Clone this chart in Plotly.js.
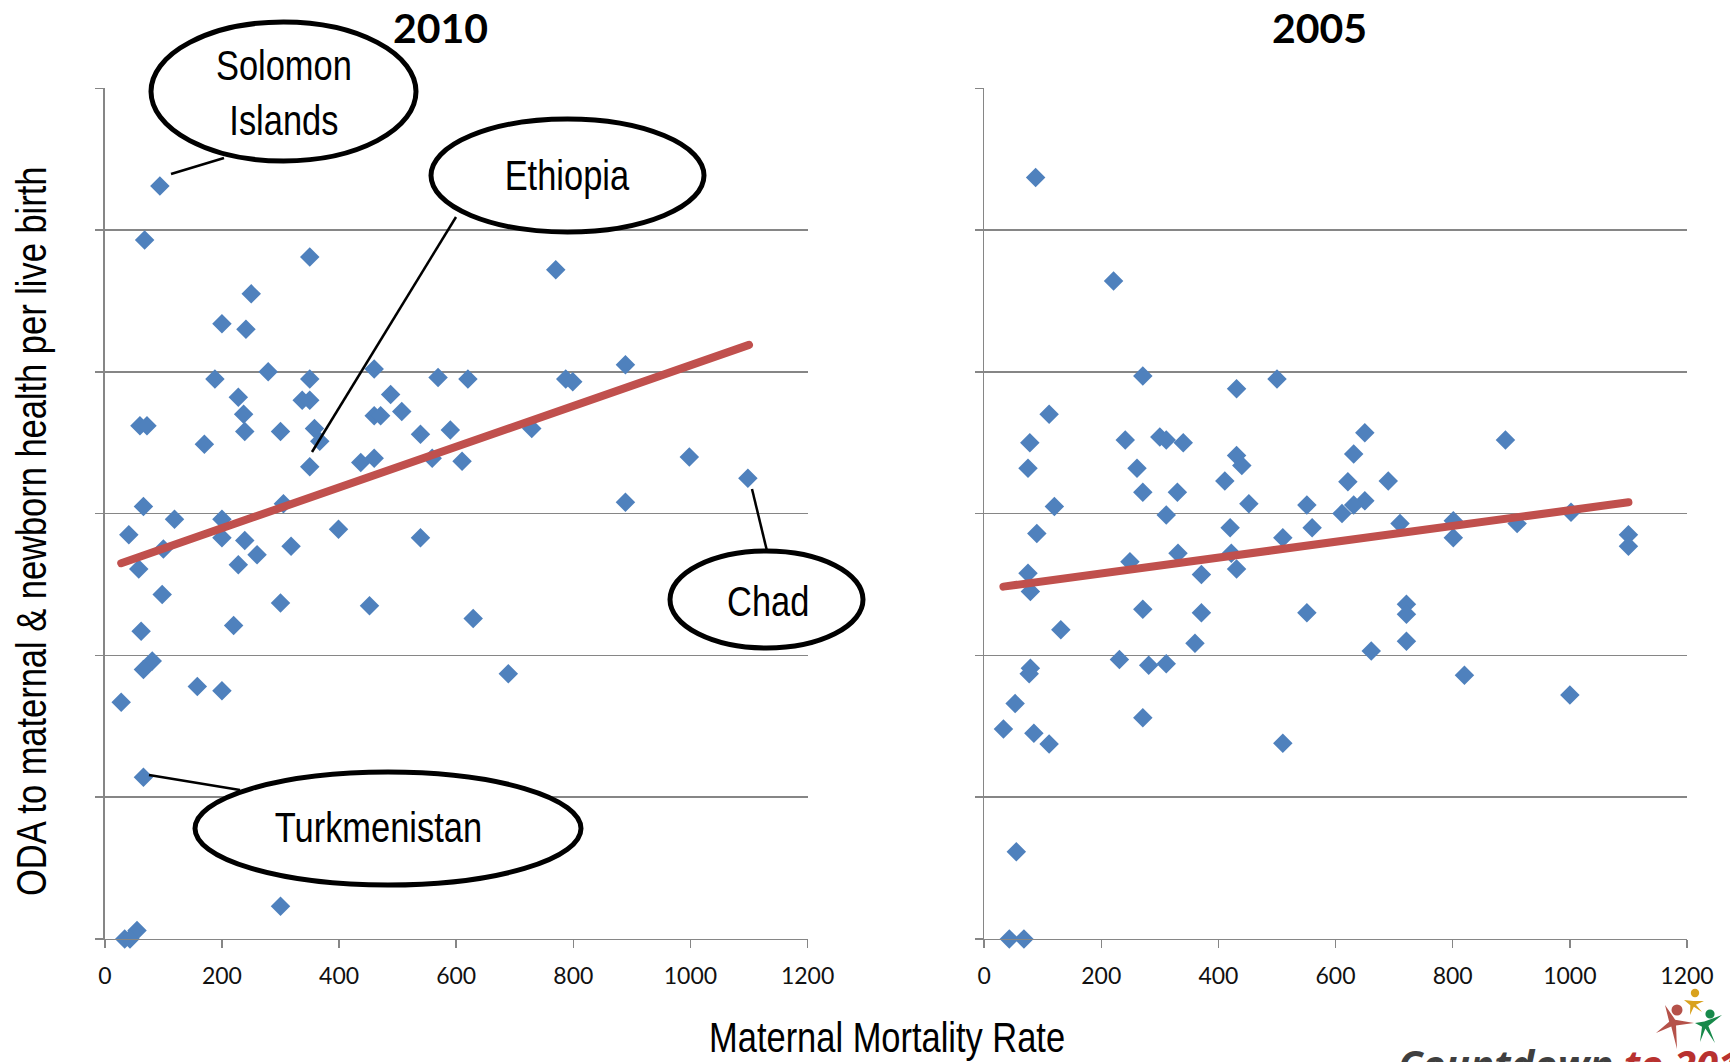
<!DOCTYPE html>
<html><head><meta charset="utf-8">
<script src="https://cdn.plot.ly/plotly-3.0.1.min.js"></script>
<style>html,body{margin:0;padding:0;background:#fff;overflow:hidden;} #chart{width:1730px;height:1062px;}</style>
</head><body><div id="chart"></div>
<script>
// ---- data ----
const mmr2010 = [94, 68, 350, 770, 250, 200, 241, 279, 460, 889, 188, 350, 620, 569, 787, 799, 488, 228, 337, 350, 237, 507, 460, 471, 60, 72, 300, 239, 358, 539, 590, 729, 367, 170, 998, 559, 610, 437, 460, 350, 1098, 889, 66, 305, 119, 200, 399, 41, 200, 539, 239, 318, 100, 260, 228, 58, 98, 300, 452, 629, 220, 62, 81, 66, 689, 158, 200, 28, 66, 300, 55, 34, 43];
const oda2010 = [53.1, 49.3, 48.1, 47.2, 45.5, 43.4, 43.0, 40.0, 40.2, 40.5, 39.5, 39.5, 39.5, 39.6, 39.5, 39.3, 38.4, 38.2, 38.0, 38.0, 37.0, 37.2, 36.9, 36.9, 36.2, 36.2, 35.8, 35.8, 36.0, 35.6, 35.9, 36.0, 35.1, 34.9, 34.0, 33.9, 33.7, 33.6, 33.9, 33.3, 32.5, 30.8, 30.5, 30.7, 29.6, 29.6, 28.9, 28.5, 28.3, 28.3, 28.1, 27.7, 27.5, 27.1, 26.4, 26.1, 24.3, 23.7, 23.5, 22.6, 22.1, 21.7, 19.6, 19.0, 18.7, 17.8, 17.5, 16.7, 11.4, 2.3, 0.6, 0, 0];
const mmr2005 = [88, 221, 271, 500, 431, 111, 650, 300, 311, 241, 340, 78, 890, 631, 431, 440, 75, 261, 690, 621, 411, 271, 330, 452, 650, 631, 611, 120, 551, 311, 710, 801, 910, 1002, 420, 560, 90, 510, 801, 1100, 1100, 331, 422, 249, 371, 431, 75, 79, 271, 371, 551, 721, 721, 131, 360, 721, 661, 231, 281, 311, 79, 77, 820, 53, 1000, 33, 271, 85, 111, 510, 55, 43, 68];
const oda2005 = [53.7, 46.4, 39.7, 39.5, 38.8, 37.0, 35.7, 35.4, 35.2, 35.2, 35.0, 35.0, 35.2, 34.2, 34.1, 33.4, 33.2, 33.2, 32.3, 32.25, 32.3, 31.5, 31.5, 30.7, 30.9, 30.6, 30.0, 30.5, 30.6, 29.9, 29.3, 29.5, 29.3, 30.1, 29.0, 29.0, 28.6, 28.3, 28.3, 28.5, 27.7, 27.2, 27.2, 26.6, 25.7, 26.1, 25.8, 24.5, 23.25, 23.0, 23.0, 23.6, 22.9, 21.8, 20.85, 21.0, 20.3, 19.7, 19.3, 19.4, 19.1, 18.7, 18.6, 16.6, 17.2, 14.8, 15.6, 14.5, 13.75, 13.8, 6.15, 0, 0];
const trendX2010 = [28, 1100];
const trendY2010 = [26.5, 41.9];
const trendX2005 = [33, 1100];
const trendY2005 = [24.85, 30.8];
const xTickVals = [0, 200, 400, 600, 800, 1000, 1200];
const xTickText = ['0', '200', '400', '600', '800', '1000', '1200'];
const panelTitles = ['2010', '2005'];
const calloutLabels = ['Solomon<br>Islands', 'Ethiopia', 'Chad', 'Turkmenistan'];
const xTitle = 'Maternal Mortality Rate';
const yTitle = 'ODA to maternal &amp; newborn health per live birth';

// ---- layout helpers (pixel -> paper) ----
const W = 1730, H = 1062;
const fx = x => x / W;
const fy = y => 1 - y / H;
const NARROW = '"Liberation Sans", Arial, sans-serif';   // condensed after drawing (Arial Narrow look)
const GRID = '#868686';

const xBase = {
  range: [0, 1200], tickvals: xTickVals, ticktext: xTickText,
  ticks: 'outside', ticklen: 8, tickwidth: 1.5, tickcolor: GRID,
  showline: true, linecolor: GRID, linewidth: 1.5,
  showgrid: false, zeroline: false, fixedrange: true,
  tickfont: {family: 'Lato, sans-serif', size: 23, color: '#111'},
  ticklabelstandoff: 8
};
const yBase = {
  range: [0, 60], tick0: 0, dtick: 10, showticklabels: false,
  ticks: 'outside', ticklen: 8, tickwidth: 1.5, tickcolor: GRID,
  showline: true, linecolor: GRID, linewidth: 1.5,
  showgrid: true, gridcolor: GRID, gridwidth: 1.5,
  zeroline: false, fixedrange: true
};

const yDom = [fy(938.9), fy(88.3)];
const layout = {
  width: W, height: H,
  margin: {l: 0, r: 0, t: 0, b: 0},
  paper_bgcolor: '#fff', plot_bgcolor: 'rgba(0,0,0,0)',
  showlegend: false,
  xaxis: Object.assign({}, xBase, {domain: [fx(104.8), fx(807.6)], anchor: 'y'}),
  yaxis: Object.assign({}, yBase, {domain: yDom, anchor: 'x'}),
  xaxis2: Object.assign({}, xBase, {domain: [fx(984.1), fx(1687)], anchor: 'y2'}),
  yaxis2: Object.assign({}, yBase, {domain: yDom, anchor: 'x2'}),
  annotations: [],
  shapes: []
};

// panel titles
[[440.5, panelTitles[0]], [1319.5, panelTitles[1]]].forEach(([x, t]) => {
  layout.annotations.push({xref: 'paper', yref: 'paper', x: fx(x), y: fy(27), xanchor: 'center', yanchor: 'middle',
    text: t, showarrow: false, font: {family: 'Lato, sans-serif', size: 41, weight: 700, color: '#000'}});
});
// shared x title and y title
layout.annotations.push({xref: 'paper', yref: 'paper', x: fx(887), y: fy(1037), xanchor: 'center', yanchor: 'middle',
  text: xTitle, showarrow: false, font: {family: NARROW, size: 42, color: '#000'}});
layout.annotations.push({xref: 'paper', yref: 'paper', x: fx(31), y: fy(532), xanchor: 'center', yanchor: 'middle',
  textangle: -90, text: yTitle, showarrow: false, font: {family: NARROW, size: 42, color: '#000'}});

// callouts: ellipse box [x0,y0,x1,y1], text centre, leader line
const calloutGeom = [
  {box: [151, 22, 416, 161], txt: [283.5, 93], line: [171, 174, 224, 158]},
  {box: [431, 119, 704, 232], txt: [567, 175], line: [456, 217, 312, 452]},
  {box: [670, 551, 863, 648], txt: [768, 601], line: [752, 489, 767, 551]},
  {box: [195, 772, 581, 885], txt: [378, 827], line: [149, 775, 240, 790]}
];
calloutGeom.forEach((g, i) => {
  layout.shapes.push({type: 'line', xref: 'paper', yref: 'paper', layer: 'above',
    x0: fx(g.line[0]), y0: fy(g.line[1]), x1: fx(g.line[2]), y1: fy(g.line[3]),
    line: {color: '#000', width: 2.5}});
  layout.shapes.push({type: 'circle', xref: 'paper', yref: 'paper', layer: 'above',
    x0: fx(g.box[0]), y0: fy(g.box[3]), x1: fx(g.box[2]), y1: fy(g.box[1]),
    fillcolor: '#fff', line: {color: '#000', width: 5}});
  layout.annotations.push({xref: 'paper', yref: 'paper', x: fx(g.txt[0]), y: fy(g.txt[1]),
    xanchor: 'center', yanchor: 'middle', text: calloutLabels[i], showarrow: false,
    font: {family: NARROW, size: 42, color: '#000'}});
});

// logo (decorative, cut off at the bottom edge like the reference)
layout.annotations.push({xref: 'paper', yref: 'paper', x: fx(1396), y: fy(1034), xanchor: 'left', yanchor: 'top',
  text: '<b><i>Countdown <span style="color:#B8312F">to 2015</span></i></b>', showarrow: false,
  font: {family: '"Open Sans", sans-serif', size: 40, color: '#3f3f3f'}});
function figurePath(c, tips, inner) {
  const pts = tips.map(p => ({a: Math.atan2(p[1] - c[1], p[0] - c[0]), p}))
    .sort((u, v) => u.a - v.a);
  let d = '';
  pts.forEach((t, i) => {
    const n = pts[(i + 1) % pts.length];
    let a2 = n.a; if (a2 <= t.a) a2 += 2 * Math.PI;
    const m = (t.a + a2) / 2;
    const ip = [c[0] + inner * Math.cos(m), c[1] + inner * Math.sin(m)];
    d += (i === 0 ? 'M' : 'L') + fx(t.p[0]).toFixed(5) + ',' + fy(t.p[1]).toFixed(5) +
      'L' + fx(ip[0]).toFixed(5) + ',' + fy(ip[1]).toFixed(5);
  });
  return d + 'Z';
}
const figs = [
  {col: '#B5524A', head: [1677, 1010, 5.5], c: [1673, 1023], tips: [[1665, 1005], [1694, 1023], [1656, 1033], [1677, 1049]], inner: 4},
  {col: '#D9A21E', head: [1695, 993, 4.2], c: [1693, 1004], tips: [[1684, 1000], [1704, 1001], [1690, 1015], [1702, 1012]], inner: 3},
  {col: '#17894A', head: [1710, 1014, 4.6], c: [1705, 1025], tips: [[1695, 1023], [1722, 1015], [1700, 1042], [1715, 1043]], inner: 3.5}
];
figs.forEach(f => {
  layout.shapes.push({type: 'path', xref: 'paper', yref: 'paper', layer: 'above',
    path: figurePath(f.c, f.tips, f.inner), fillcolor: f.col, line: {width: 0}});
  layout.shapes.push({type: 'circle', xref: 'paper', yref: 'paper', layer: 'above',
    x0: fx(f.head[0] - f.head[2]), x1: fx(f.head[0] + f.head[2]),
    y0: fy(f.head[1] + f.head[2]), y1: fy(f.head[1] - f.head[2]),
    fillcolor: f.col, line: {width: 0}});
});

const marker = {symbol: 'diamond', size: 15, color: '#4F81BD', line: {width: 0}};
const trendLine = {color: '#C0504D', width: 8};
const data = [
  {type: 'scatter', mode: 'markers', x: mmr2010, y: oda2010, xaxis: 'x', yaxis: 'y', marker, cliponaxis: false, hoverinfo: 'skip'},
  {type: 'scatter', mode: 'lines', x: trendX2010, y: trendY2010, xaxis: 'x', yaxis: 'y', line: trendLine, hoverinfo: 'skip'},
  {type: 'scatter', mode: 'markers', x: mmr2005, y: oda2005, xaxis: 'x2', yaxis: 'y2', marker, cliponaxis: false, hoverinfo: 'skip'},
  {type: 'scatter', mode: 'lines', x: trendX2005, y: trendY2005, xaxis: 'x2', yaxis: 'y2', line: trendLine, hoverinfo: 'skip'}
];

// Arial-Narrow look: condense the Liberation Sans texts horizontally
function condense(factor) {
  document.querySelectorAll('#chart text').forEach(t => {
    const ff = (t.style.fontFamily || '') + (t.getAttribute('font-family') || '');
    if (ff.indexOf('Liberation Sans') < 0) return;
    const lines = t.querySelectorAll('tspan.line');
    const list = lines.length ? Array.from(lines) : [t];
    list.forEach(el => {
      const w = el.getComputedTextLength();
      if (w > 0) {
        el.setAttribute('textLength', (w * factor).toFixed(1));
        el.setAttribute('lengthAdjust', 'spacingAndGlyphs');
      }
    });
  });
}

Plotly.newPlot('chart', data, layout, {staticPlot: true, displayModeBar: false}).then(() => {
  document.querySelectorAll('.scatterlayer .js-line').forEach(p => { p.style.strokeLinecap = 'round'; });
  condense(0.82);
});
</script>
</body></html>
